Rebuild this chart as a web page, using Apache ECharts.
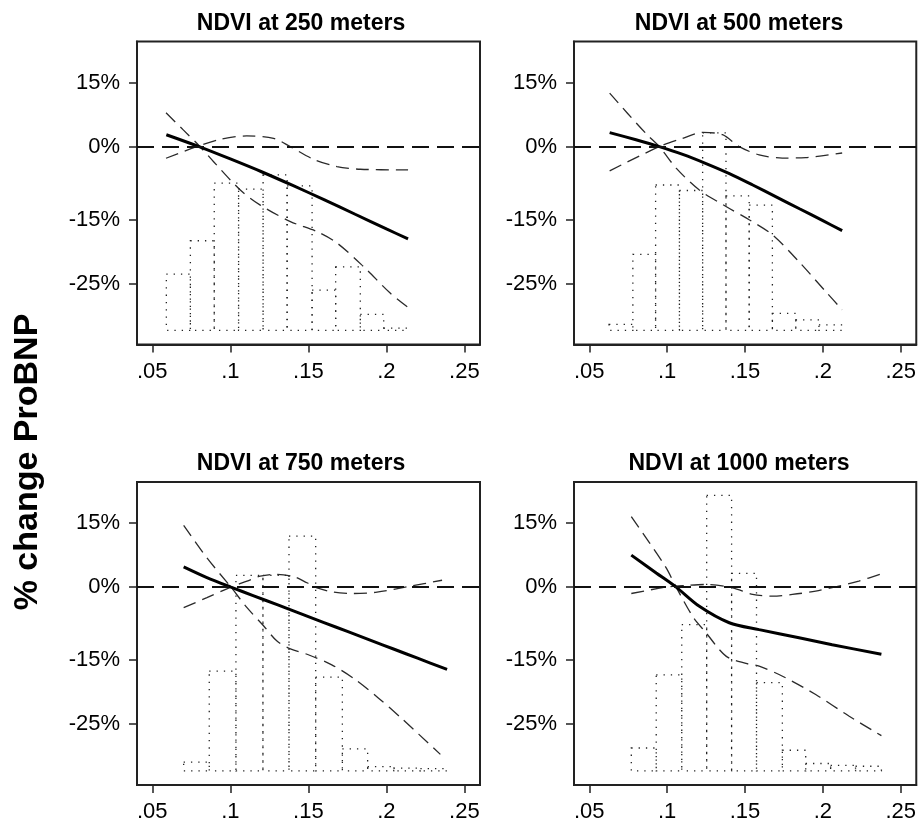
<!DOCTYPE html>
<html>
<head>
<meta charset="utf-8">
<script src="https://cdn.jsdelivr.net/npm/echarts@6/dist/echarts.min.js"></script>
<style>
  html, body { margin: 0; padding: 0; background: #fff; }
  #chart { width: 919px; height: 825px; }
</style>
</head>
<body>
<div id="chart"></div>
<script>
// axis ticks (y is the log-scale coefficient, labelled as % change)
var xTickValues = [0.05, 0.1, 0.15, 0.2, 0.25];
var xTickLabels = ['.05', '.1', '.15', '.2', '.25'];
var yTickValues = [0.14, 0, -0.16, -0.30];
var yTickLabels = ['15%', '0%', '-15%', '-25%'];

var panelTitles = ['NDVI at 250 meters', 'NDVI at 500 meters', 'NDVI at 750 meters', 'NDVI at 1000 meters'];

// NDVI at 250 m
var fit250 = [[0.059,0.026],[0.08,0.0],[0.1,-0.027],[0.12,-0.055],[0.14,-0.085],[0.16,-0.116],[0.18,-0.148],[0.2,-0.180],[0.2139,-0.202]];
var upper250 = [[0.0588,-0.0255],[0.0785,0],[0.0934,0.016],[0.1105,0.0233],[0.1277,0.0182],[0.1384,0],[0.1533,-0.0277],[0.1683,-0.0437],[0.1833,-0.0495],[0.2139,-0.051]];
var lower250 = [[0.0588,0.074],[0.07,0.036],[0.08,0.002],[0.0893,-0.033],[0.1064,-0.095],[0.1192,-0.128],[0.1385,-0.164],[0.1556,-0.186],[0.1684,-0.211],[0.1855,-0.263],[0.2026,-0.321],[0.2139,-0.352]];
var edges250 = [0.059,0.0744,0.0897,0.1053,0.121,0.1364,0.1524,0.1675,0.1833,0.1983,0.2133];
var heights250 = [-0.279,-0.206,-0.080,-0.093,-0.062,-0.086,-0.314,-0.263,-0.367,-0.397];

// NDVI at 500 m
var fit500 = [[0.0631,0.0306],[0.08,0.015],[0.095,0],[0.11,-0.017],[0.125,-0.037],[0.14,-0.059],[0.155,-0.084],[0.17,-0.110],[0.185,-0.136],[0.2,-0.162],[0.2124,-0.184]];
var upper500 = [[0.0631,-0.053],[0.095,0],[0.11,0.018],[0.1228,0.031],[0.1356,0.026],[0.1463,0],[0.1591,-0.018],[0.174,-0.025],[0.189,-0.024],[0.2124,-0.014]];
var lower500 = [[0.0631,0.117],[0.0748,0.072],[0.0866,0.028],[0.095,0],[0.1058,-0.047],[0.1207,-0.095],[0.1378,-0.131],[0.1527,-0.160],[0.1676,-0.193],[0.1847,-0.252],[0.2018,-0.317],[0.2124,-0.357]];
var edges500 = [0.0627,0.078,0.0926,0.1079,0.1228,0.1378,0.1527,0.1676,0.1826,0.1975,0.2124];
var heights500 = [-0.389,-0.236,-0.084,-0.096,0.030,-0.108,-0.128,-0.365,-0.379,-0.390];

// NDVI at 750 m
var fit750 = [[0.0701,0.0445],[0.085,0.021],[0.1004,0],[0.115,-0.019],[0.13,-0.0385],[0.145,-0.058],[0.16,-0.0775],[0.175,-0.097],[0.19,-0.1165],[0.205,-0.136],[0.22,-0.1555],[0.2389,-0.180]];
var upper750 = [[0.0701,-0.045],[0.085,-0.023],[0.1004,0],[0.1107,0.013],[0.1192,0.024],[0.1299,0.028],[0.1406,0.023],[0.1491,0.0095],[0.1556,-0.0015],[0.1662,-0.011],[0.1791,-0.014],[0.194,-0.011],[0.2154,0.002],[0.2357,0.015]];
var lower750 = [[0.0701,0.135],[0.085,0.064],[0.1004,0],[0.1107,-0.045],[0.1214,-0.085],[0.1299,-0.118],[0.1385,-0.135],[0.15,-0.148],[0.165,-0.170],[0.18,-0.202],[0.195,-0.243],[0.21,-0.288],[0.2346,-0.366]];
var edges750 = [0.0701,0.0865,0.1036,0.1209,0.1376,0.1547,0.1718,0.188,0.2047,0.2218,0.2389];
var heights750 = [-0.383,-0.184,0.0255,0.0255,0.1116,-0.197,-0.354,-0.393,-0.396,-0.397];

// NDVI at 1000 m
var fit1000 = [[0.077,0.070],[0.093,0.031],[0.1058,0],[0.1207,-0.042],[0.1399,-0.078],[0.1591,-0.093],[0.1847,-0.111],[0.206,-0.126],[0.2376,-0.147]];
var upper1000 = [[0.077,-0.014],[0.0994,0],[0.1122,0.0036],[0.125,0.0058],[0.1421,-0.0015],[0.1549,-0.016],[0.1677,-0.0197],[0.1805,-0.016],[0.1954,-0.0088],[0.2103,0.0022],[0.2231,0.0131],[0.2376,0.0292]];
var lower1000 = [[0.077,0.154],[0.0887,0.097],[0.0994,0.042],[0.1058,0],[0.1164,-0.064],[0.125,-0.100],[0.1378,-0.151],[0.1506,-0.167],[0.1591,-0.173],[0.1741,-0.195],[0.1954,-0.235],[0.2167,-0.282],[0.2376,-0.325]];
var edges1000 = [0.077,0.093,0.1094,0.1254,0.1414,0.1574,0.174,0.189,0.205,0.221,0.2376];
var heights1000 = [-0.352,-0.192,-0.082,0.2006,0.030,-0.209,-0.357,-0.386,-0.390,-0.392];

var histBase = -0.402;

var panels = [
  {fit: fit250, upper: upper250, lower: lower250, edges: edges250, heights: heights250},
  {fit: fit500, upper: upper500, lower: lower500, edges: edges500, heights: heights500},
  {fit: fit750, upper: upper750, lower: lower750, edges: edges750, heights: heights750},
  {fit: fit1000, upper: upper1000, lower: lower1000, edges: edges1000, heights: heights1000}
];

var FONT = '"Liberation Sans", Arial, sans-serif';
var gridPos = [
  {left: 137, top: 41.5},
  {left: 574, top: 41.5},
  {left: 137, top: 482},
  {left: 574, top: 482}
];
var titleCenters = [[301, 24], [739, 24], [301, 464], [739, 464]];

function labelFor(values, labels) {
  return function (v) {
    for (var i = 0; i < values.length; i++) {
      if (Math.abs(values[i] - v) < 1e-6) return labels[i];
    }
    return '';
  };
}

var grids = [], xAxes = [], yAxes = [], series = [], graphics = [];

panels.forEach(function (p, i) {
  grids.push({
    left: gridPos[i].left, top: gridPos[i].top, width: 343, height: 303,
    show: true, borderColor: '#222', borderWidth: 2, backgroundColor: '#fff'
  });
  xAxes.push({
    type: 'value', gridIndex: i, min: 0.0402, max: 0.26,
    axisLine: {show: true, onZero: false, lineStyle: {color: '#222', width: 2}},
    axisTick: {show: true, length: 8, customValues: xTickValues, lineStyle: {color: '#222', width: 1.5}},
    axisLabel: {customValues: xTickValues, formatter: labelFor(xTickValues, xTickLabels),
      color: '#000', fontSize: 22, fontFamily: FONT, margin: 16},
    splitLine: {show: false}
  });
  yAxes.push({
    type: 'value', gridIndex: i, min: -0.433, max: 0.23,
    axisLine: {show: true, onZero: false, lineStyle: {color: '#222', width: 2}},
    axisTick: {show: true, length: 8, customValues: yTickValues, lineStyle: {color: '#222', width: 1.5}},
    axisLabel: {customValues: yTickValues, formatter: labelFor(yTickValues, yTickLabels),
      color: '#000', fontSize: 22, fontFamily: FONT, margin: 17},
    splitLine: {show: false}
  });

  // histogram of NDVI, dotted outline bars
  series.push({
    type: 'custom', xAxisIndex: i, yAxisIndex: i, z: 1,
    data: p.heights.map(function (h, k) { return [p.edges[k], p.edges[k + 1], h]; }),
    encode: {x: [0, 1], y: 2},
    renderItem: function (params, api) {
      var a = api.coord([api.value(0), histBase]);
      var b = api.coord([api.value(1), api.value(2)]);
      return {
        type: 'rect',
        shape: {x: a[0], y: b[1], width: b[0] - a[0], height: a[1] - b[1]},
        style: {fill: 'none', stroke: '#222', lineWidth: 1.3, lineDash: [1.3, 6]}
      };
    }
  });

  var ciStyle = {color: '#2a2a2a', width: 1.3, type: [13, 7]};
  series.push({
    type: 'line', xAxisIndex: i, yAxisIndex: i, z: 3, data: p.upper,
    symbol: 'none', smooth: 0.3, lineStyle: ciStyle
  });
  series.push({
    type: 'line', xAxisIndex: i, yAxisIndex: i, z: 3, data: p.lower,
    symbol: 'none', smooth: 0.3, lineStyle: ciStyle
  });
  series.push({
    type: 'line', xAxisIndex: i, yAxisIndex: i, z: 4, data: p.fit,
    symbol: 'none', smooth: 0.3, lineStyle: {color: '#000', width: 3},
    markLine: {
      silent: true, symbol: ['none', 'none'], label: {show: false},
      lineStyle: {color: '#111', width: 2, type: [17, 8]},
      data: [{yAxis: 0}]
    }
  });

  graphics.push({
    type: 'text', x: titleCenters[i][0], y: titleCenters[i][1],
    style: {text: panelTitles[i], font: 'bold 23px ' + FONT, fill: '#000',
      textAlign: 'center', textVerticalAlign: 'middle'}
  });
});

graphics.push({
  type: 'text', x: 28, y: 462, rotation: Math.PI / 2,
  style: {text: '% change ProBNP', font: 'bold 34px ' + FONT, fill: '#000',
    textAlign: 'center', textVerticalAlign: 'middle'}
});

var myChart = echarts.init(document.getElementById('chart'));
myChart.setOption({
  backgroundColor: '#fff',
  animation: false,
  grid: grids,
  xAxis: xAxes,
  yAxis: yAxes,
  series: series,
  graphic: graphics
});
</script>
</body>
</html>
